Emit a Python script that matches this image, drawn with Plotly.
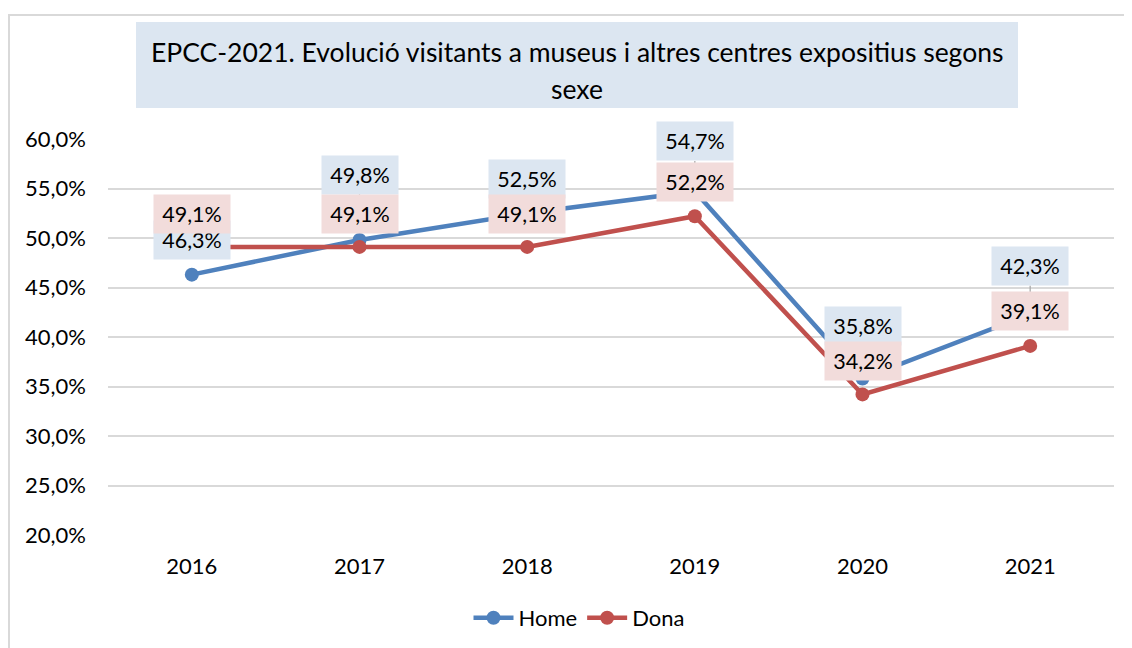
import plotly.graph_objects as go

years = ["2016", "2017", "2018", "2019", "2020", "2021"]
home = [0.463, 0.498, 0.525, 0.547, 0.358, 0.423]
dona = [0.491, 0.491, 0.491, 0.522, 0.342, 0.391]
home_labels = ["46,3%", "49,8%", "52,5%", "54,7%", "35,8%", "42,3%"]
dona_labels = ["49,1%", "49,1%", "49,1%", "52,2%", "34,2%", "39,1%"]

# label placement (pixels above the point) and whether a leader line is drawn
home_lift = [35, 65, 34, 50, 53, 48]
home_leader = [False, True, False, True, False, True]
dona_lift = [33, 33, 33, 34, 33, 35]
dona_leader = [False, False, False, False, False, False]

BLUE = "#4F81BD"
RED = "#C0504D"
BLUE_BG = "#DCE6F1"
PINK_BG = "#F2DCDB"
FONT = "Lato, 'Open Sans', sans-serif"

OFF = 8  # page body margin
W, H = 1132, 648
L, T = 108 - OFF, 139 - OFF
pw, ph = 1006, 396
R, B = W - L - pw, H - T - ph


def px_to_paper_x(px):
    return (px - OFF - L) / pw


def px_to_paper_y(py):
    return (T + ph - (py - OFF)) / ph


fig = go.Figure()
fig.add_trace(go.Scatter(
    x=years, y=home, name="Home", mode="lines+markers",
    line=dict(color=BLUE, width=4.5), marker=dict(size=14, color=BLUE),
))
fig.add_trace(go.Scatter(
    x=years, y=dona, name="Dona", mode="lines+markers",
    line=dict(color=RED, width=4.5), marker=dict(size=14, color=RED),
))

annotations = []


def add_labels(vals, labels, lifts, leaders, bg):
    for i, (yv, t, lift, lead) in enumerate(zip(vals, labels, lifts, leaders)):
        common = dict(
            x=i, y=yv, xref="x", yref="y", text=t,
            font=dict(family=FONT, size=21.5, color="#000000"),
            bgcolor=bg, width=76, height=38, borderpad=0,
            align="center", valign="middle",
        )
        if lead:
            annotations.append(dict(
                **common, showarrow=True, ax=0, ay=-lift,
                arrowhead=0, arrowwidth=1.2, arrowcolor="#A6A6A6", standoff=7,
            ))
        else:
            annotations.append(dict(
                **common, showarrow=False, xanchor="center", yanchor="middle", yshift=lift,
            ))


add_labels(home, home_labels, home_lift, home_leader, BLUE_BG)
add_labels(dona, dona_labels, dona_lift, dona_leader, PINK_BG)

# title text
annotations.append(dict(
    x=px_to_paper_x(577), y=px_to_paper_y(52), xref="paper", yref="paper",
    text="EPCC-2021. Evolució visitants a museus i altres centres expositius segons",
    showarrow=False, font=dict(family=FONT, size=26.5, color="#000000"),
    xanchor="center", yanchor="middle",
))
annotations.append(dict(
    x=px_to_paper_x(577), y=px_to_paper_y(89), xref="paper", yref="paper",
    text="sexe", showarrow=False, font=dict(family=FONT, size=26.5, color="#000000"),
    xanchor="center", yanchor="middle",
))

shapes = [
    # title box
    dict(type="rect", xref="paper", yref="paper", layer="below",
         x0=px_to_paper_x(136), x1=px_to_paper_x(1018),
         y0=px_to_paper_y(108), y1=px_to_paper_y(22),
         fillcolor=BLUE_BG, line=dict(width=0)),
    # chart border (left and top visible)
    dict(type="rect", xref="paper", yref="paper", layer="below",
         x0=px_to_paper_x(9), x1=px_to_paper_x(1160),
         y0=px_to_paper_y(680), y1=px_to_paper_y(15),
         fillcolor="rgba(0,0,0,0)", line=dict(color="#D9D9D9", width=2)),
]

fig.update_layout(
    width=W, height=H,
    margin=dict(l=L, r=R, t=T, b=B),
    paper_bgcolor="#FFFFFF", plot_bgcolor="#FFFFFF",
    separators=",.",
    font=dict(family=FONT, size=22, color="#000000"),
    showlegend=True,
    legend=dict(orientation="h", x=px_to_paper_x(579), xanchor="center",
                y=px_to_paper_y(618), yanchor="middle",
                font=dict(family=FONT, size=22, color="#000000"),
                itemwidth=40, tracegroupgap=0),
    annotations=annotations,
    shapes=shapes,
)
fig.update_xaxes(
    type="category", range=[-0.5, 5.5], showgrid=False, showline=False,
    ticks="", ticklabelstandoff=16, tickfont=dict(family=FONT, size=22),
    zeroline=False,
)
fig.update_yaxes(
    range=[0.2, 0.6], dtick=0.05, tick0=0.2, tickformat=".1%",
    showgrid=True, gridcolor="#D9D9D9", gridwidth=1.5, zeroline=False,
    showline=False, ticks="", ticklabelstandoff=21,
    tickfont=dict(family=FONT, size=22),
)

fig.write_html("out.html")
